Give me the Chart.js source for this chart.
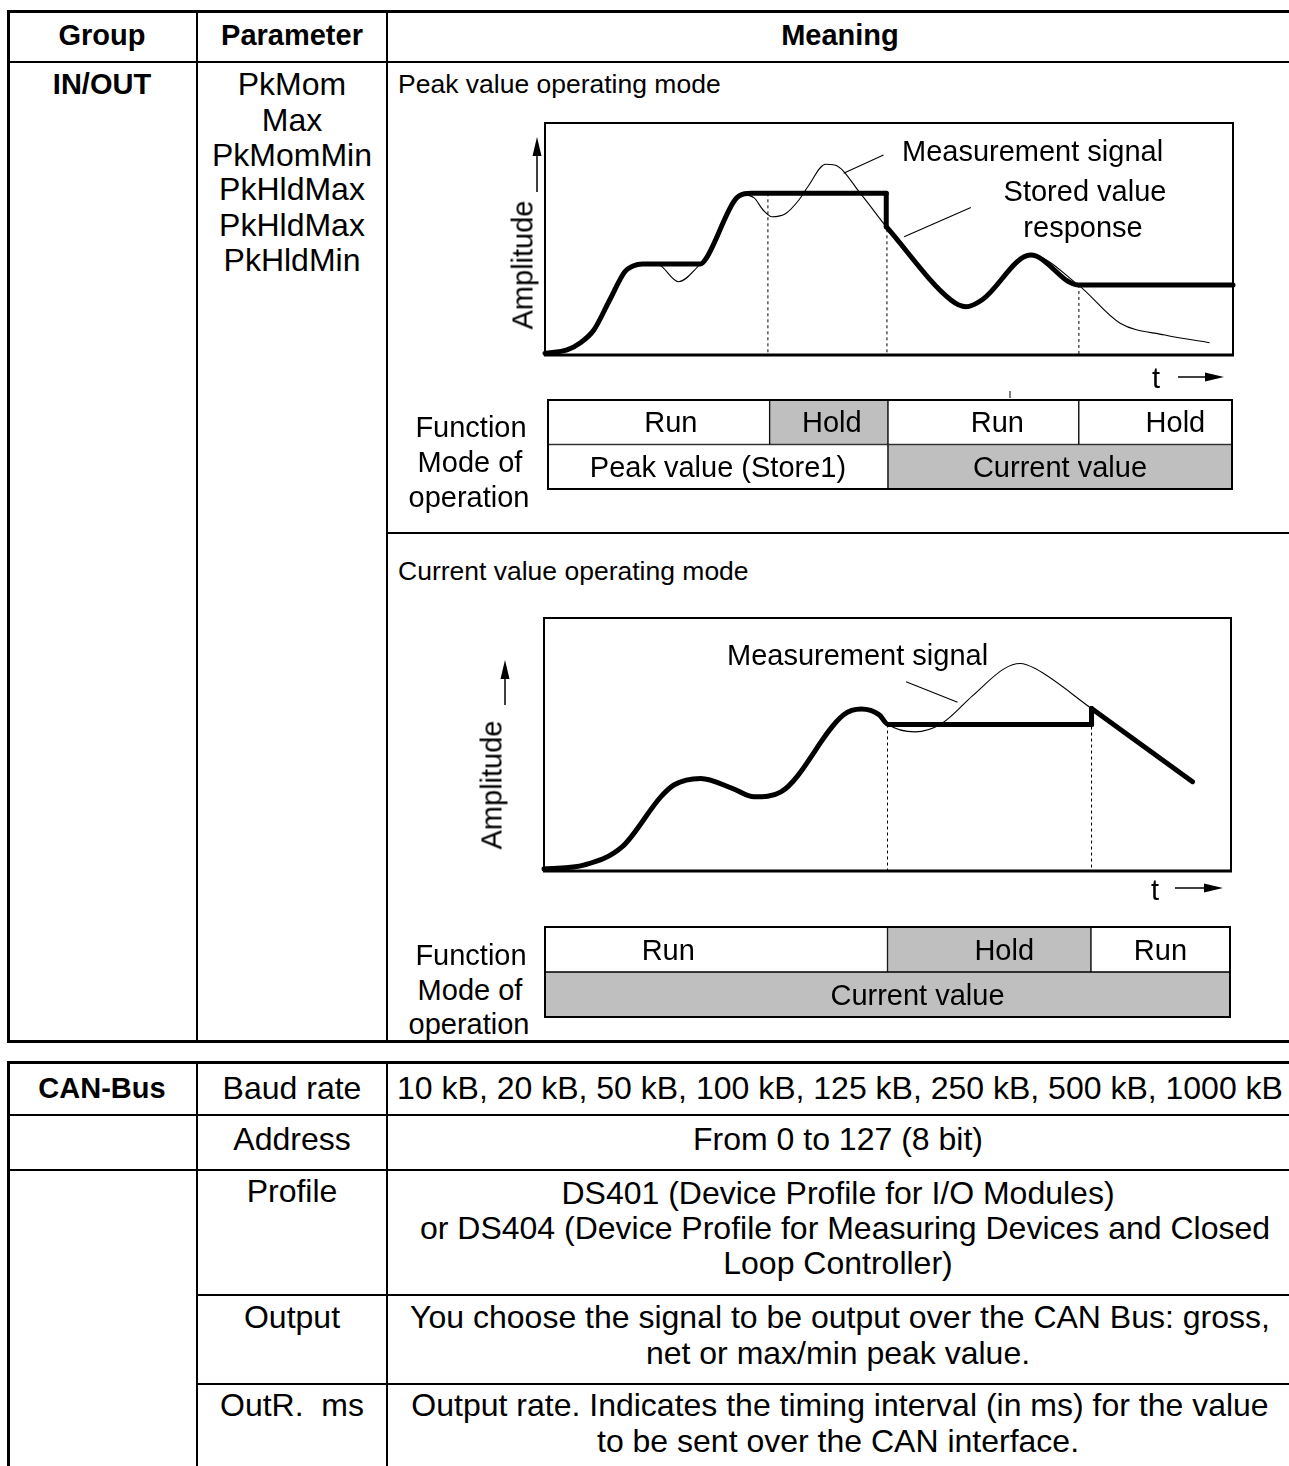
<!DOCTYPE html>
<html>
<head>
<meta charset="utf-8">
<script src="https://cdn.jsdelivr.net/npm/chart.js@4.4.1/dist/chart.umd.min.js"></script>
<style>
html,body{margin:0;padding:0;background:#fff;}
body{width:1289px;height:1466px;position:relative;overflow:hidden;font-family:"Liberation Sans",Arial,Helvetica,sans-serif;color:#000;}
.ln{position:absolute;background:#000;}
.t{position:absolute;white-space:pre;transform:translate(-50%,-50%);font-size:32px;line-height:1;}
.t.left{transform:translate(0,-50%);}
.t.b{font-weight:bold;font-size:29px;}
canvas{position:absolute;}
</style>
</head>
<body>
<canvas id="peakChart" width="829" height="300" style="left:460px;top:100px"></canvas>
<canvas id="peakModes" width="700" height="105" style="left:540px;top:392px"></canvas>
<canvas id="curChart" width="829" height="310" style="left:460px;top:600px"></canvas>
<canvas id="curModes" width="701" height="106" style="left:537px;top:919px"></canvas>
<script>
// t and amplitude are both 0..100 across the plot box

// peak value operating mode
let peakSignalT = [0,3.2,5.1,7.1,9.4,11.6,12.8,14.2,16.4,19.4,22.6,23.4,27.6,28.8,30.4,31.7,33,35,36.9,38.2,40.8,42.1,46,49.6,59,61.2,63.5,70.6,77.5,83.6,90.1,96.6];
let peakSignalA = [0.7,2.2,5.2,10.8,23.7,35.9,38.4,39.2,39,31.6,39.2,41.5,66.8,69,67.7,62.5,59.6,61,66.8,72.5,82.2,81.9,69,55.3,23.7,20.8,23.7,43.1,30.2,13.7,8.6,5.3];
let peakStoredT = [0,3.2,5.1,7.1,9.4,11.6,12.8,14.2,22.6,23.4,27.6,29,30,49.6,49.6,59,61.2,63.5,70.6,77.5,100];
let peakStoredA = [0.7,2.2,5.2,10.8,23.7,35.9,38.4,39.2,39.2,41.5,66.8,69.5,69.7,69.7,55.3,23.7,20.8,23.7,43.1,30.2,30.2];
let peakSwitchT = [32.4,49.7,77.6];
let peakSwitchTopA = [69.7,69.7,30.2];
let peakSignalLeaderT = [43.4,49.2];
let peakSignalLeaderA = [78.3,86.2];
let peakStoredLeaderT = [52.2,61.9];
let peakStoredLeaderA = [51,63.6];
let peakFunction = ["Run","Hold","Run","Hold"];
let peakFunctionEnd = [32.4,49.7,77.6,100];
let peakMode = ["Peak value (Store1)","Current value"];
let peakModeEnd = [49.7,100];

// current value operating mode
let curSignalT = [0,5.9,11.4,17,18.9,22.8,27.4,30.6,34.5,43.6,46.2,48.8,50.1,54,57.9,62.4,67,69.3,71.5,79.7,94.4];
let curSignalA = [0.8,2.4,9.6,29.3,34,36.6,32.7,29.3,31.3,61.7,64,61.7,57.9,55,58.3,69.3,80,82,80,64.2,35.3];
let curStoredT = [0,5.9,11.4,17,18.9,22.8,27.4,30.6,34.5,43.6,46.2,48.8,50.1,79.7,79.7,94.4];
let curStoredA = [0.8,2.4,9.6,29.3,34,36.6,32.7,29.3,31.3,61.7,64,61.7,57.9,57.9,64.2,35.3];
let curSwitchT = [50,79.7];
let curSwitchTopA = [57.9,64.2];
let curSignalLeaderT = [52.7,60.2];
let curSignalLeaderA = [74.8,66.7];
let curFunction = ["Run","Hold","Run"];
let curFunctionEnd = [50,79.7,100];
let curMode = ["Current value"];
let curModeEnd = [100];

// styling of the Run/Hold boxes: fill per segment and a small label nudge (px)
let grey = "#bfbfbf";
let peakFunctionFill = ["#fff", grey, "#fff", "#fff"];
let peakModeFill = ["#fff", grey];
let curFunctionFill = ["#fff", grey, "#fff"];
let curModeFill = [grey];
let peakLabelNudge = [12, 3, 14, 20, 0, 0];
let curLabelNudge = [-48, 15, 0, 30];

let page = document.body;

let put = (text, x, y, cls, size) => {
    let d = document.createElement("div");
    d.className = "t " + (cls || "");
    d.textContent = text;
    d.style.left = x + "px";
    d.style.top = y + "px";
    if (size) d.style.fontSize = size + "px";
    page.appendChild(d);
    return d;
}

let hline = (x1, x2, y, h) => {
    let d = document.createElement("div");
    d.className = "ln";
    d.style.cssText = `left:${x1}px;top:${y}px;width:${x2 - x1}px;height:${h}px`;
    page.appendChild(d);
}
let vline = (x, y1, y2, w) => {
    let d = document.createElement("div");
    d.className = "ln";
    d.style.cssText = `left:${x}px;top:${y1}px;width:${w}px;height:${y2 - y1}px`;
    page.appendChild(d);
}

let pts = (ts, as) => ts.map((t, i) => ({x: t, y: as[i]}));

// cut a series where it jumps straight up/down, so the spline stays on the curved parts only
let splitRuns = (ts, as) => {
    let runs = [], cur = [{x: ts[0], y: as[0]}];
    for (let i = 1; i < ts.length; i++) {
        if (ts[i] === ts[i - 1]) {
            runs.push(cur);
            runs.push([{x: ts[i - 1], y: as[i - 1]}, {x: ts[i], y: as[i]}]);
            cur = [{x: ts[i], y: as[i]}];
        } else {
            cur.push({x: ts[i], y: as[i]});
        }
    }
    runs.push(cur);
    return runs;
}

let arrow = (ctx, x1, y1, x2, y2) => {
    let ang = Math.atan2(y2 - y1, x2 - x1), L = 19, W = 4.5;
    let c = Math.cos(ang), s = Math.sin(ang);
    ctx.lineWidth = 1.5;
    ctx.beginPath();
    ctx.moveTo(x1, y1);
    ctx.lineTo(x2 - L * c * 0.8, y2 - L * s * 0.8);
    ctx.stroke();
    ctx.beginPath();
    ctx.moveTo(x2, y2);
    ctx.lineTo(x2 - L * c + W * s, y2 - L * s - W * c);
    ctx.lineTo(x2 - L * c - W * s, y2 - L * s + W * c);
    ctx.closePath();
    ctx.fill();
}

let framePlugin = {
    id: "frame",
    afterDraw(chart, args, o) {
        let ctx = chart.ctx, a = chart.chartArea;
        ctx.save();
        ctx.strokeStyle = "#000";
        ctx.fillStyle = "#000";
        ctx.lineWidth = o.width;
        ctx.strokeRect(a.left, a.top, a.right - a.left, a.bottom - a.top);
        if (o.bottom) {
            ctx.lineWidth = o.bottom;
            ctx.beginPath();
            ctx.moveTo(a.left - 1, a.bottom);
            ctx.lineTo(a.right + 1, a.bottom);
            ctx.stroke();
        }
        if (o.up) arrow(ctx, a.left + o.up[0], a.top + o.up[1], a.left + o.up[0], a.top + o.up[2]);
        if (o.right) arrow(ctx, a.right + o.right[1], a.bottom + o.right[0], a.right + o.right[2], a.bottom + o.right[0]);
        if (o.tick) {
            ctx.lineWidth = 1;
            ctx.beginPath();
            ctx.moveTo(a.right + o.tick[0], a.bottom + o.tick[1]);
            ctx.lineTo(a.right + o.tick[0], a.bottom + o.tick[2]);
            ctx.stroke();
        }
        ctx.restore();
    }
}

let makeDiagram = (id, signal, stored, switchT, switchTop, leaders, pad, frame) => {
    let thick = {borderColor: "#000", borderWidth: 5, borderJoinStyle: "round", borderCapStyle: "round",
        pointRadius: 0, cubicInterpolationMode: "monotone", clip: false, order: 0, fill: false};
    let thin = {borderColor: "#000", borderWidth: 1.1, pointRadius: 0, cubicInterpolationMode: "monotone",
        clip: false, order: 1, fill: false};
    let datasets = [];
    splitRuns(stored[0], stored[1]).forEach(run => datasets.push(Object.assign({label: "Stored value", data: run}, thick)));
    datasets.push(Object.assign({label: "Measurement signal", data: pts(signal[0], signal[1])}, thin));
    leaders.forEach(l => datasets.push(Object.assign({label: "leader", data: pts(l[0], l[1])}, thin)));
    switchT.forEach((t, i) => datasets.push({label: "switch", data: [{x: t, y: switchTop[i]}, {x: t, y: 0}],
        borderColor: "#000", borderWidth: 1, borderDash: [3, 3], pointRadius: 0, clip: false, order: 2}));

    return new Chart(document.getElementById(id), {
        type: "line",
        data: {datasets: datasets},
        options: {
            responsive: false,
            animation: false,
            events: [],
            layout: {padding: pad},
            scales: {
                x: {type: "linear", min: 0, max: 100, display: false},
                y: {type: "linear", min: 0, max: 100, display: false}
            },
            plugins: {legend: {display: false}, tooltip: {enabled: false}, frame: frame}
        },
        plugins: [framePlugin]
    });
}

// rows: [labels, ends, fills]
let makeModes = (id, rows, pad, nudge) => {
    let canvas = document.getElementById(id);
    let datasets = [];
    rows.forEach((row, r) => {
        let start = 0;
        row[0].forEach((lab, i) => {
            let data = rows.map(() => null);
            data[r] = [start, row[1][i]];
            datasets.push({label: lab, data: data, backgroundColor: row[2][i],
                borderColor: "#000", borderWidth: 1, borderSkipped: false, grouped: false,
                barPercentage: 1, categoryPercentage: 1});
            start = row[1][i];
        });
    });
    let chart = new Chart(canvas, {
        type: "bar",
        data: {labels: ["Function", "Mode of operation"], datasets: datasets},
        options: {
            indexAxis: "y",
            responsive: false,
            animation: false,
            events: [],
            layout: {padding: pad},
            scales: {
                x: {type: "linear", min: 0, max: 100, display: false},
                y: {display: false}
            },
            plugins: {legend: {display: false}, tooltip: {enabled: false}, frame: {width: 2}}
        },
        plugins: [framePlugin]
    });
    let left = parseFloat(canvas.style.left), top = parseFloat(canvas.style.top);
    chart.data.datasets.forEach((ds, i) => {
        chart.getDatasetMeta(i).data.forEach((el, j) => {
            if (!ds.data[j]) return;
            let p = el.getProps(["x", "base", "y"], true);
            put(ds.label, left + (p.x + p.base) / 2 + (nudge[i] || 0), top + p.y, "", 29);
        });
    });
    return chart;
}

// ---- table frame ----
// table 1
hline(7, 1289, 10, 3);
hline(7, 1289, 61, 2);
hline(7, 1289, 1040, 3);
vline(7, 10, 1043, 3);
vline(196, 10, 1043, 2);
vline(386, 10, 1043, 2);
hline(386, 1289, 532, 2);
// table 2
hline(7, 1289, 1061, 3);
vline(7, 1061, 1466, 3);
vline(196, 1061, 1466, 2);
vline(386, 1061, 1466, 2);
hline(7, 1289, 1114, 2);
hline(7, 1289, 1169, 2);
hline(196, 1289, 1294, 2);
hline(196, 1289, 1383, 2);

// ---- charts ----
makeDiagram("peakChart", [peakSignalT, peakSignalA], [peakStoredT, peakStoredA], peakSwitchT, peakSwitchTopA,
    [[peakSignalLeaderT, peakSignalLeaderA], [peakStoredLeaderT, peakStoredLeaderA]],
    {left: 85, top: 23, right: 56, bottom: 45},
    {width: 2, bottom: 3, up: [-8, 69, 14], right: [22, -55, -9], tick: [-223, 36, 43]});
makeModes("peakModes", [[peakFunction, peakFunctionEnd, peakFunctionFill], [peakMode, peakModeEnd, peakModeFill]],
    {left: 8, right: 8, top: 8, bottom: 8}, peakLabelNudge);

makeDiagram("curChart", [curSignalT, curSignalA], [curStoredT, curStoredA], curSwitchT, curSwitchTopA,
    [[curSignalLeaderT, curSignalLeaderA]],
    {left: 84, top: 18, right: 58, bottom: 39},
    {width: 2, bottom: 3, up: [-39, 87, 42], right: [17, -56, -8]});
makeModes("curModes", [[curFunction, curFunctionEnd, curFunctionFill], [curMode, curModeEnd, curModeFill]],
    {left: 8, right: 8, top: 8, bottom: 8}, curLabelNudge);

// ---- texts ----
put("Group", 102, 35, "b");
put("Parameter", 292, 35, "b");
put("Meaning", 840, 35, "b");
put("IN/OUT", 102, 84, "b");
["PkMom", "Max", "PkMomMin", "PkHldMax", "PkHldMax", "PkHldMin"].forEach((s, i) => put(s, 292, [84, 120, 155, 189, 225, 260][i]));

put("Peak value operating mode", 398, 84, "left", 26.5);
put("Measurement signal", 902, 151, "left", 29);
put("Stored value", 1085, 191, "", 29);
put("response", 1083, 227, "", 29);
put("Amplitude", 523, 265, "", 29).style.transform = "translate(-50%,-50%) rotate(-90deg)";
put("t", 1156, 378, "", 29);
put("Function", 471, 427, "", 29);
put("Mode of", 470, 462, "", 29);
put("operation", 469, 497, "", 29);

put("Current value operating mode", 398, 571, "left", 26.5);
put("Measurement signal", 727, 655, "left", 29);
put("Amplitude", 492, 785, "", 29).style.transform = "translate(-50%,-50%) rotate(-90deg)";
put("t", 1155, 890, "", 29);
put("Function", 471, 955, "", 29);
put("Mode of", 470, 990, "", 29);
put("operation", 469, 1024, "", 29);

put("CAN-Bus", 102, 1088, "b");
put("Baud rate", 292, 1088);
put("10 kB, 20 kB, 50 kB, 100 kB, 125 kB, 250 kB, 500 kB, 1000 kB", 840, 1088);
put("Address", 292, 1139);
put("From 0 to 127 (8 bit)", 838, 1139);
put("Profile", 292, 1191);
put("DS401 (Device Profile for I/O Modules)", 838, 1193);
put("or DS404 (Device Profile for Measuring Devices and Closed", 845, 1228);
put("Loop Controller)", 838, 1263);
put("Output", 292, 1317);
put("You choose the signal to be output over the CAN Bus: gross,", 840, 1317);
put("net or max/min peak value.", 838, 1353);
put("OutR.  ms", 292, 1405);
put("Output rate. Indicates the timing interval (in ms) for the value", 840, 1405);
put("to be sent over the CAN interface.", 838, 1441);
</script>
</body>
</html>
